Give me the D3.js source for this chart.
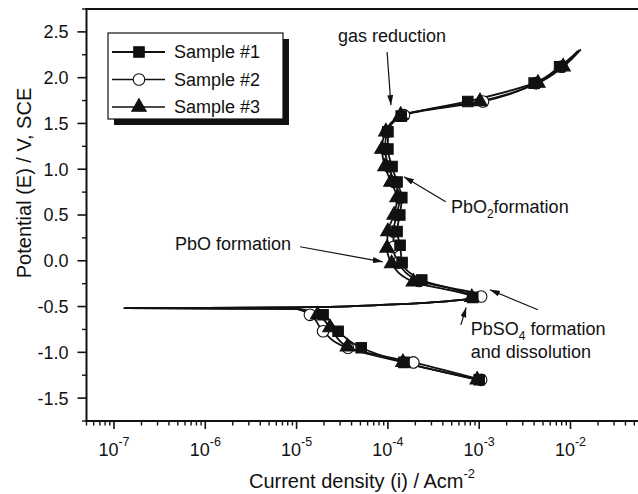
<!DOCTYPE html>
<html>
<head>
<meta charset="utf-8">
<script src="https://cdn.jsdelivr.net/npm/d3@7"></script>
<style>
  body { margin: 0; background: #fff; }
  svg { display: block; }
  text { font-family: Arial, "Liberation Sans", sans-serif; fill: #111; }
</style>
</head>
<body>
<svg id="chart" width="638" height="494"></svg>
<script>
// Polarisation curves: [current density (A/cm^2), potential (V vs SCE)]
const seriesNames = ["Sample #1", "Sample #2", "Sample #3"];

const sample1 = [
  [1.0e-3, -1.30], [1.5e-4, -1.11], [5.1e-5, -0.95], [2.85e-5, -0.77], [1.95e-5, -0.59],
  [8.5e-4, -0.40], [2.35e-4, -0.21], [1.43e-4, -0.02], [1.36e-4, 0.17], [1.26e-4, 0.32],
  [1.35e-4, 0.50], [1.42e-4, 0.69], [1.26e-4, 0.86], [1.11e-4, 1.03], [1.0e-4, 1.22],
  [1.0e-4, 1.41], [1.4e-4, 1.58], [7.5e-4, 1.74], [4.0e-3, 1.94], [7.6e-3, 2.12]
];
const sample2 = [
  [1.05e-3, -1.30], [1.9e-4, -1.11], [3.65e-5, -0.95], [1.95e-5, -0.77], [1.4e-5, -0.59],
  [1.05e-3, -0.39], [2.2e-4, -0.22], [1.3e-4, -0.02], [1.15e-4, 0.15], [1.15e-4, 0.32],
  [1.25e-4, 0.50], [1.35e-4, 0.69], [1.18e-4, 0.86], [1.02e-4, 1.03], [9.3e-5, 1.22],
  [9.8e-5, 1.41], [1.5e-4, 1.59], [1.1e-3, 1.74], [4.2e-3, 1.94], [8.0e-3, 2.12]
];
const sample3 = [
  [9.5e-4, -1.30], [1.46e-4, -1.11], [3.6e-5, -0.94], [2.32e-5, -0.73], [1.7e-5, -0.59],
  [8.3e-4, -0.40], [1.9e-4, -0.23], [1.1e-4, -0.03], [9.8e-5, 0.14], [1.0e-4, 0.32],
  [1.17e-4, 0.50], [1.26e-4, 0.69], [1.08e-4, 0.86], [9.3e-5, 1.03], [8.6e-5, 1.22],
  [9.5e-5, 1.41], [1.38e-4, 1.59], [1.02e-3, 1.74], [4.4e-3, 1.94], [8.3e-3, 2.12]
];
// line-only vertices around the corrosion potential (cathodic approach, cusp, anodic rise)
const ecorrPoints = [
  [1.0e-5, -0.525], [2.0e-6, -0.522], [1.3e-7, -0.517],
  [1.0e-6, -0.515], [1.0e-5, -0.508], [1.0e-4, -0.480], [3.0e-4, -0.455], [6.0e-4, -0.430]
];
// last recorded point of each sweep (no symbol)
const sweepEnds = [[1.25e-2, 2.30], [1.2e-2, 2.29], [1.3e-2, 2.31]];

const decadeTicks = [1e-7, 1e-6, 1e-5, 1e-4, 1e-3, 1e-2];
const decadeExps = ["-7", "-6", "-5", "-4", "-3", "-2"];
const potentialTicks = [-1.5, -1.0, -0.5, 0.0, 0.5, 1.0, 1.5, 2.0, 2.5];
const potentialLabels = ["-1.5", "-1.0", "-0.5", "0.0", "0.5", "1.0", "1.5", "2.0", "2.5"];

// annotations in data coordinates: text anchor and arrow from -> to
const notes = [
  { lines: [["gas reduction"]], at: [2.84e-5, 2.39], from: [9.8e-5, 2.28], to: [1.08e-4, 1.70] },
  { lines: [["PbO", "2", "formation"]], at: [4.9e-4, 0.524], from: [4.3e-4, 0.644], to: [1.5e-4, 0.917] },
  { lines: [["PbO formation"]], at: [4.66e-7, 0.12], from: [1.09e-5, 0.153], to: [8.8e-5, -0.011] },
  { lines: [["PbSO", "4", " formation"], ["and dissolution"]], at: [8.1e-4, -0.808],
    from: [4.4e-3, -0.535], to: [1.31e-3, -0.317] },
  { lines: [], at: null, from: [6.3e-4, -0.70], to: [7.2e-4, -0.51] }
];

const svg = d3.select("#chart");
const plotLeft = 86.5, plotBottom = 421, plotTop = 9;

const x = d3.scaleLog().domain([5e-8, 1e-1]).range([plotLeft, plotLeft + 91.3 * Math.log10(1e-1 / 5e-8)]);
const y = d3.scaleLinear().domain([-1.75, 2.75]).range([plotBottom, plotTop]);

// frame: top border
svg.append("line").attr("x1", plotLeft).attr("x2", 638).attr("y1", plotTop).attr("y2", plotTop)
  .attr("stroke", "#111").attr("stroke-width", 2);

// x axis
const xMinor = [];
[1e-8].concat(decadeTicks).forEach(d => { for (let k = 2; k <= 9; k++) { const v = d * k; if (v >= 5e-8 && v < 1e-1) xMinor.push(v); } });
const gx = svg.append("g").attr("transform", `translate(0,${plotBottom})`);
gx.append("line").attr("x1", plotLeft).attr("x2", 638).attr("stroke", "#111").attr("stroke-width", 2);
gx.selectAll("line.minor").data(xMinor).join("line").attr("class", "minor")
  .attr("x1", d => x(d)).attr("x2", d => x(d)).attr("y1", 0).attr("y2", 4.5)
  .attr("stroke", "#111").attr("stroke-width", 1.4);
gx.selectAll("line.major").data(decadeTicks).join("line").attr("class", "major")
  .attr("x1", d => x(d)).attr("x2", d => x(d)).attr("y1", 0).attr("y2", 8)
  .attr("stroke", "#111").attr("stroke-width", 1.6);
const xl = gx.selectAll("text").data(decadeTicks).join("text")
  .attr("x", d => x(d)).attr("y", 35).attr("text-anchor", "middle").attr("font-size", 18);
xl.append("tspan").text("10");
xl.append("tspan").attr("font-size", 12.5).attr("dy", -10).text((d, i) => decadeExps[i]);

// y axis
const yMinor = d3.range(-1.75, 2.76, 0.25).filter(v => Math.abs(v * 2 - Math.round(v * 2)) > 1e-6);
const gy = svg.append("g").attr("transform", `translate(${plotLeft},0)`);
gy.append("line").attr("y1", plotTop - 1).attr("y2", plotBottom + 1).attr("stroke", "#111").attr("stroke-width", 2);
gy.selectAll("line.minor").data(yMinor).join("line").attr("class", "minor")
  .attr("x1", 0).attr("x2", -4.5).attr("y1", d => y(d)).attr("y2", d => y(d))
  .attr("stroke", "#111").attr("stroke-width", 1.4);
gy.selectAll("line.major").data(potentialTicks).join("line").attr("class", "major")
  .attr("x1", 0).attr("x2", -9).attr("y1", d => y(d)).attr("y2", d => y(d))
  .attr("stroke", "#111").attr("stroke-width", 1.6);
gy.selectAll("text").data(potentialTicks).join("text")
  .attr("x", -18).attr("y", d => y(d)).attr("dy", "0.36em").attr("text-anchor", "end")
  .attr("font-size", 18).text((d, i) => potentialLabels[i]);

// axis titles
const xt = svg.append("text").attr("x", 362).attr("y", 488).attr("text-anchor", "middle").attr("font-size", 20);
xt.append("tspan").text("Current density (i) / Acm");
xt.append("tspan").attr("font-size", 13).attr("dy", -10).text("-2");
svg.append("text").attr("transform", "translate(31,183) rotate(-90)")
  .attr("text-anchor", "middle").attr("font-size", 20).text("Potential (E) / V, SCE");

// curves
const allSeries = [sample1, sample2, sample3];
const line = d3.line().x(d => x(d[0])).y(d => y(d[1])).curve(d3.curveMonotoneY);
const plot = svg.append("g");
allSeries.forEach((s, i) => {
  const pts = s.concat(ecorrPoints, [sweepEnds[i]]).slice().sort((a, b) => b[1] - a[1]);
  plot.append("path").attr("d", line(pts)).attr("fill", "none")
    .attr("stroke", "#111").attr("stroke-width", 1.8).attr("stroke-linejoin", "round");
});

// symbols
const sym = {
  square: d3.symbol().type(d3.symbolSquare).size(110),
  circle: d3.symbol().type(d3.symbolCircle).size(105),
  triangle: d3.symbol().type(d3.symbolTriangle).size(90)
};
const symStyle = [
  { p: sym.square, fill: "#111" },
  { p: sym.circle, fill: "#fff" },
  { p: sym.triangle, fill: "#111" }
];
[1, 0, 2].forEach(i => {
  plot.selectAll(null).data(allSeries[i]).join("path")
    .attr("transform", d => `translate(${x(d[0])},${y(d[1])})`)
    .attr("d", symStyle[i].p()).attr("fill", symStyle[i].fill)
    .attr("stroke", "#111").attr("stroke-width", 1.1);
});

// annotations
const defs = svg.append("defs");
defs.append("marker").attr("id", "head").attr("viewBox", "0 0 10 6").attr("refX", 10).attr("refY", 3)
  .attr("markerWidth", 10).attr("markerHeight", 6).attr("markerUnits", "userSpaceOnUse")
  .attr("orient", "auto")
  .append("path").attr("d", "M0,0 L10,3 L0,6 Z").attr("fill", "#111");
const ann = svg.append("g");
notes.forEach(n => {
  ann.append("line").attr("x1", x(n.from[0])).attr("y1", y(n.from[1]))
    .attr("x2", x(n.to[0])).attr("y2", y(n.to[1]))
    .attr("stroke", "#111").attr("stroke-width", 1.2).attr("marker-end", "url(#head)");
  n.lines.forEach((parts, li) => {
    const t = ann.append("text").attr("x", x(n.at[0])).attr("y", y(n.at[1]) + li * 23).attr("font-size", 18);
    parts.forEach((p, pi) => {
      const ts = t.append("tspan").text(p);
      if (pi === 1) ts.attr("font-size", 12).attr("dy", 5);
      if (pi === 2) ts.attr("dy", -5);
    });
  });
});

// legend
const lg = svg.append("g");
lg.append("rect").attr("x", 114).attr("y", 39).attr("width", 175).attr("height", 86).attr("fill", "#111");
lg.append("rect").attr("x", 108).attr("y", 33).attr("width", 175).attr("height", 86)
  .attr("fill", "#fff").attr("stroke", "#111").attr("stroke-width", 1.2);
seriesNames.forEach((name, i) => {
  const ry = 52 + i * 27.5;
  lg.append("line").attr("x1", 112).attr("x2", 165).attr("y1", ry).attr("y2", ry)
    .attr("stroke", "#111").attr("stroke-width", i === 0 ? 2 : 1.4);
  lg.append("path").attr("transform", `translate(139,${ry})`).attr("d", symStyle[i].p())
    .attr("fill", symStyle[i].fill).attr("stroke", "#111").attr("stroke-width", 1.1);
  lg.append("text").attr("x", 174).attr("y", ry).attr("dy", "0.36em").attr("font-size", 18).text(name);
});
</script>
</body>
</html>
